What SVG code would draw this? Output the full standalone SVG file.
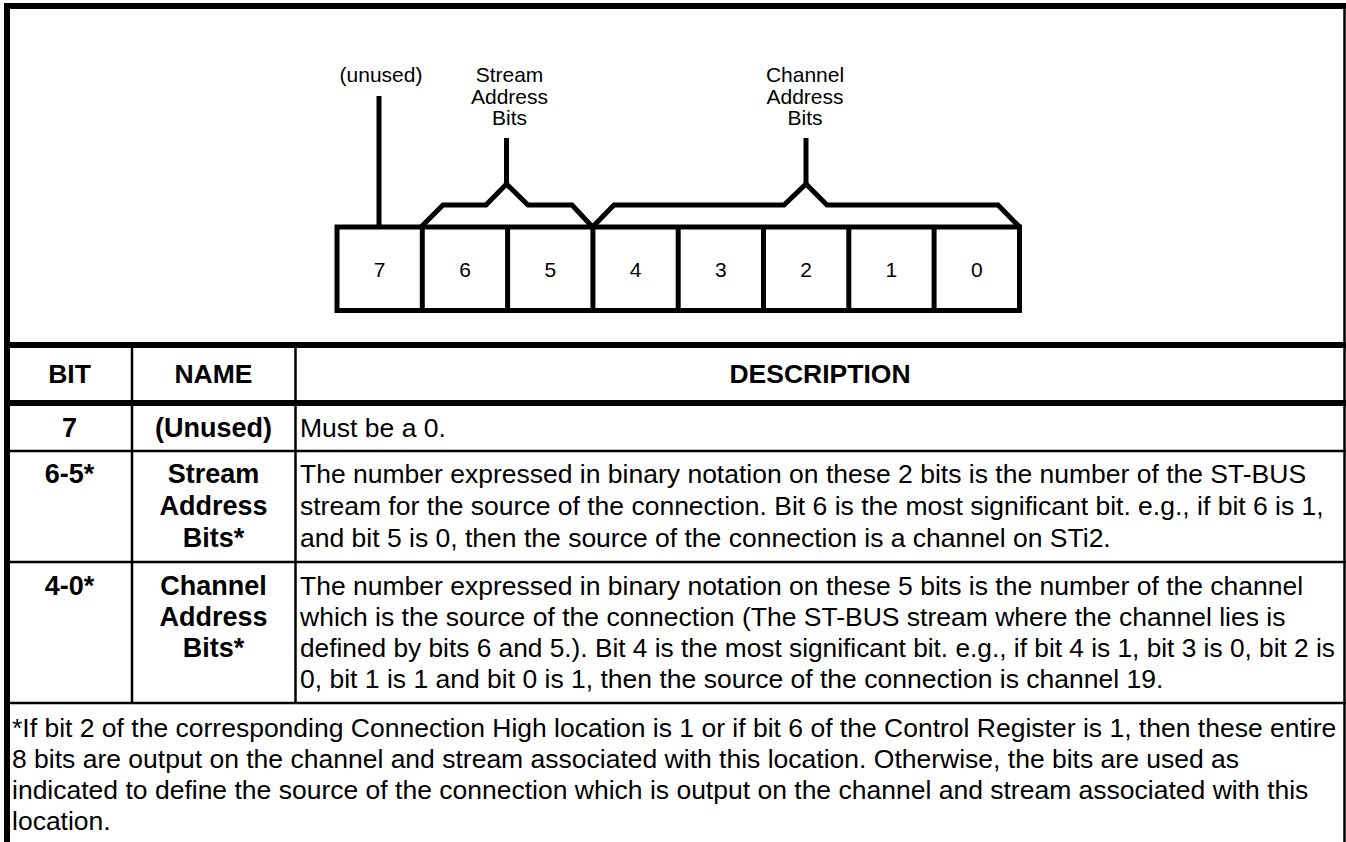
<svg xmlns="http://www.w3.org/2000/svg" width="1346" height="842" viewBox="0 0 1346 842">
<style>
.lbl{font-family:"Liberation Sans",Arial,sans-serif;font-size:21px;fill:#000;text-anchor:middle}
.dig{font-family:"Liberation Sans",Arial,sans-serif;font-size:21px;fill:#000;text-anchor:middle}
.hd{font-family:"Liberation Sans",Arial,sans-serif;font-size:26.5px;font-weight:bold;fill:#000;text-anchor:middle}
.tb{font-family:"Liberation Sans",Arial,sans-serif;font-size:27px;font-weight:bold;fill:#000;text-anchor:middle}
.tx{font-family:"Liberation Sans",Arial,sans-serif;font-size:26.5px;fill:#000}
.thick{stroke:#000;stroke-width:6;fill:none}
.thin{stroke:#000;stroke-width:2.5;fill:none}
.br{stroke:#000;stroke-width:5;fill:none;stroke-linejoin:miter}
</style>
<rect width="1346" height="842" fill="#fff"/>
<g id="frame">
<line class="thick" x1="4" y1="6" x2="1346" y2="6"/>
<line class="thick" x1="7" y1="3" x2="7" y2="842"/>
<line class="thin" x1="1344.5" y1="3" x2="1344.5" y2="842"/>
<line class="thick" x1="4" y1="345" x2="1346" y2="345"/>
<line class="thick" x1="4" y1="403" x2="1346" y2="403"/>
<line class="thin" x1="4" y1="451" x2="1346" y2="451"/>
<line class="thin" x1="4" y1="562" x2="1346" y2="562"/>
<line class="thin" x1="4" y1="703" x2="1346" y2="703"/>
<line class="thin" x1="132" y1="345" x2="132" y2="703"/>
<line class="thin" x1="295.5" y1="345" x2="295.5" y2="703"/>
</g>
<g id="register">
<rect class="br" x="337" y="227" width="682.5" height="83.5"/>
<line class="br" x1="422.3" y1="227" x2="422.3" y2="310.5"/>
<line class="br" x1="507.6" y1="227" x2="507.6" y2="310.5"/>
<line class="br" x1="592.9" y1="227" x2="592.9" y2="310.5"/>
<line class="br" x1="678.2" y1="227" x2="678.2" y2="310.5"/>
<line class="br" x1="763.5" y1="227" x2="763.5" y2="310.5"/>
<line class="br" x1="848.8" y1="227" x2="848.8" y2="310.5"/>
<line class="br" x1="934.1" y1="227" x2="934.1" y2="310.5"/>
<text class="dig" x="379.6" y="277">7</text>
<text class="dig" x="465" y="277">6</text>
<text class="dig" x="550.3" y="277">5</text>
<text class="dig" x="635.6" y="277">4</text>
<text class="dig" x="720.9" y="277">3</text>
<text class="dig" x="806.1" y="277">2</text>
<text class="dig" x="891.4" y="277">1</text>
<text class="dig" x="976.8" y="277">0</text>
</g>
<g id="labels">
<text class="lbl" x="381" y="82">(unused)</text>
<text class="lbl" x="509.5" y="82">Stream</text>
<text class="lbl" x="509.5" y="103.5">Address</text>
<text class="lbl" x="509.5" y="125">Bits</text>
<text class="lbl" x="805" y="82">Channel</text>
<text class="lbl" x="805" y="103.5">Address</text>
<text class="lbl" x="805" y="125">Bits</text>
</g>
<g id="connectors">
<line class="br" x1="379" y1="96" x2="379" y2="227"/>
<polyline class="br" points="421,227 443,205 486,205 506.5,184 528,205 572,205 592.5,227"/>
<line class="br" x1="506.5" y1="138" x2="506.5" y2="184"/>
<polyline class="br" points="592.5,227 614,205 784,205 806,184 827,205 998,205 1019.5,227"/>
<line class="br" x1="806" y1="138" x2="806" y2="184"/>
</g>
<g id="table">
<text class="hd" x="69.5" y="383">BIT</text>
<text class="hd" x="213.5" y="383">NAME</text>
<text class="hd" x="820" y="383">DESCRIPTION</text>
<text class="tb" x="69.5" y="437">7</text>
<text class="tb" x="213.5" y="437">(Unused)</text>
<text class="tx" x="300" y="437">Must be a 0.</text>
<text class="tb" x="69.5" y="483">6-5*</text>
<text class="tb" x="213.5" y="483">Stream</text>
<text class="tb" x="213.5" y="515">Address</text>
<text class="tb" x="213.5" y="547">Bits*</text>
<text class="tx" x="300" y="483">The number expressed in binary notation on these 2 bits is the number of the ST-BUS</text>
<text class="tx" x="300" y="515">stream for the source of the connection. Bit 6 is the most significant bit. e.g., if bit 6 is 1,</text>
<text class="tx" x="300" y="547">and bit 5 is 0, then the source of the connection is a channel on STi2.</text>
<text class="tb" x="69.5" y="595">4-0*</text>
<text class="tb" x="213.5" y="595">Channel</text>
<text class="tb" x="213.5" y="626">Address</text>
<text class="tb" x="213.5" y="657">Bits*</text>
<text class="tx" x="300" y="595">The number expressed in binary notation on these 5 bits is the number of the channel</text>
<text class="tx" x="300" y="626">which is the source of the connection (The ST-BUS stream where the channel lies is</text>
<text class="tx" x="300" y="657" textLength="1035" lengthAdjust="spacingAndGlyphs">defined by bits 6 and 5.). Bit 4 is the most significant bit. e.g., if bit 4 is 1, bit 3 is 0, bit 2 is</text>
<text class="tx" x="300" y="688">0, bit 1 is 1 and bit 0 is 1, then the source of the connection is channel 19.</text>
<text class="tx" x="12" y="737">*If bit 2 of the corresponding Connection High location is 1 or if bit 6 of the Control Register is 1, then these entire</text>
<text class="tx" x="12" y="768">8 bits are output on the channel and stream associated with this location. Otherwise, the bits are used as</text>
<text class="tx" x="12" y="799">indicated to define the source of the connection which is output on the channel and stream associated with this</text>
<text class="tx" x="12" y="830">location.</text>
</g>
</svg>
